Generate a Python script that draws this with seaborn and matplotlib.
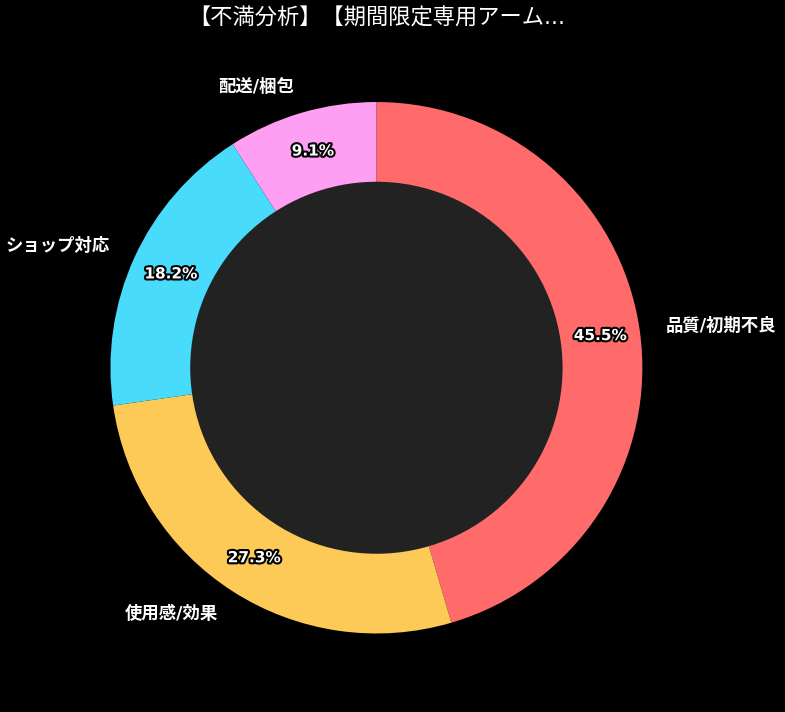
import matplotlib
matplotlib.use("Agg")
import matplotlib.pyplot as plt
import matplotlib.patheffects as pe
import seaborn as sns

# complaint categories and counts
categories = ["品質/初期不良", "使用感/効果", "ショップ対応", "配送/梱包"]
counts = [5, 3, 2, 1]
colors = ["#FF6B6B", "#FECA57", "#48DBFB", "#FF9FF3"]
title = "【不満分析】【期間限定専用アーム..."

sns.set_theme(style="dark")
plt.rcParams["font.family"] = ["DejaVu Sans", "Noto Sans CJK JP"]

fig = plt.figure(figsize=(7.85, 7.12), dpi=100, facecolor="black")
ax = fig.add_axes([0.056, 0.017, 0.847, 0.933])
ax.set_facecolor("black")

wedges, texts, autotexts = ax.pie(
    counts,
    labels=categories,
    colors=colors,
    autopct="%1.1f%%",
    startangle=90,
    counterclock=False,
    pctdistance=0.85,
    labeldistance=1.1,
    wedgeprops=dict(edgecolor="none"),
)

for t in texts:
    t.set_color("white")
    t.set_fontsize(12.5)
    t.set_fontweight("bold")

for t in autotexts:
    t.set_color("white")
    t.set_fontsize(11)
    t.set_fontweight("bold")
    t.set_path_effects([pe.withStroke(linewidth=3, foreground="black")])

# donut hole
hole = plt.Circle((0, 0), 0.70, facecolor="#222222", edgecolor="none")
ax.add_artist(hole)

ax.set_title(title, color="white", fontsize=16, pad=8)
ax.axis("equal")
ax.set_xlim(-1.25, 1.25)
ax.set_ylim(-1.25, 1.25)

fig.savefig("out.png", dpi=100, facecolor="black")
